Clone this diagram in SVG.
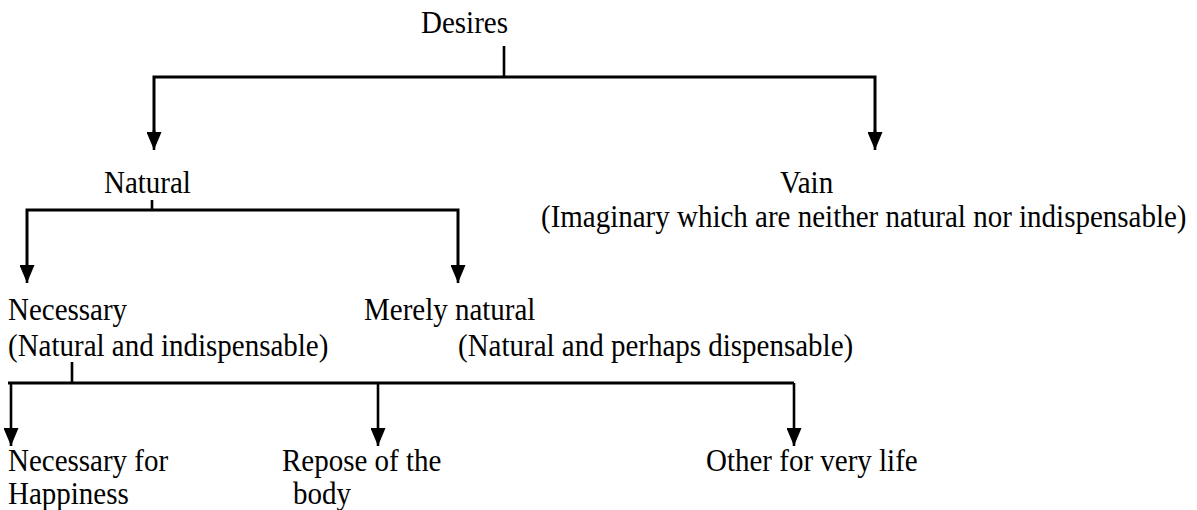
<svg xmlns="http://www.w3.org/2000/svg" width="1197" height="510" viewBox="0 0 1197 510">
  <style>
    text { font-family: "Liberation Serif", "Times New Roman", serif; font-size: 29px; fill: #000; }
    .h { stroke: #000; stroke-width: 3; fill: none; }
    .v { stroke: #000; stroke-width: 2.6; fill: none; }
  </style>
  <defs>
    <marker id="arrow" markerUnits="userSpaceOnUse" markerWidth="18" markerHeight="15" refX="18" refY="7.5" orient="auto">
      <path d="M0,0 L18,7.5 L0,15 z" fill="#000"/>
    </marker>
  </defs>
  <rect width="1197" height="510" fill="#fff"/>

  <g id="connectors">
    <line class="v" x1="504" y1="46" x2="504" y2="77"/>
    <polyline class="h" points="154,142 154,77 875,77 875,142"/>
    <line class="v" x1="154" y1="130" x2="154" y2="150" marker-end="url(#arrow)"/>
    <line class="v" x1="875" y1="130" x2="875" y2="150" marker-end="url(#arrow)"/>

    <line class="v" x1="152" y1="200" x2="152" y2="210"/>
    <polyline class="h" points="27,275 27,210 458,210 458,275"/>
    <line class="v" x1="27" y1="265" x2="27" y2="283" marker-end="url(#arrow)"/>
    <line class="v" x1="458" y1="265" x2="458" y2="283" marker-end="url(#arrow)"/>

    <line class="v" x1="72" y1="362" x2="72" y2="383"/>
    <line class="h" x1="8" y1="383" x2="794" y2="383"/>
    <line class="v" x1="11" y1="383" x2="11" y2="446" marker-end="url(#arrow)"/>
    <line class="v" x1="378" y1="383" x2="378" y2="446" marker-end="url(#arrow)"/>
    <line class="v" x1="794" y1="383" x2="794" y2="446" marker-end="url(#arrow)"/>
  </g>

  <g id="desires"><text transform="translate(421,33) scale(1,1.1)">Desires</text></g>
  <g id="natural"><text transform="translate(104,193) scale(1,1.1)">Natural</text></g>
  <g id="vain">
    <text transform="translate(780,193) scale(1,1.1)">Vain</text>
    <text transform="translate(541,227) scale(1,1.1)">(Imaginary which are neither natural nor indispensable)</text>
  </g>
  <g id="necessary">
    <text transform="translate(8,320) scale(1,1.1)">Necessary</text>
    <text transform="translate(8,356) scale(1,1.1)">(Natural and indispensable)</text>
  </g>
  <g id="merely-natural">
    <text transform="translate(364,320) scale(1,1.1)">Merely natural</text>
    <text transform="translate(458,356) scale(1,1.1)">(Natural and perhaps dispensable)</text>
  </g>
  <g id="happiness">
    <text transform="translate(8,471) scale(1,1.1)">Necessary for</text>
    <text transform="translate(8,504) scale(1,1.1)">Happiness</text>
  </g>
  <g id="repose">
    <text transform="translate(282,471) scale(1,1.1)">Repose of the</text>
    <text transform="translate(293,504) scale(1,1.1)">body</text>
  </g>
  <g id="very-life"><text transform="translate(706,471) scale(1,1.1)">Other for very life</text></g>
</svg>
